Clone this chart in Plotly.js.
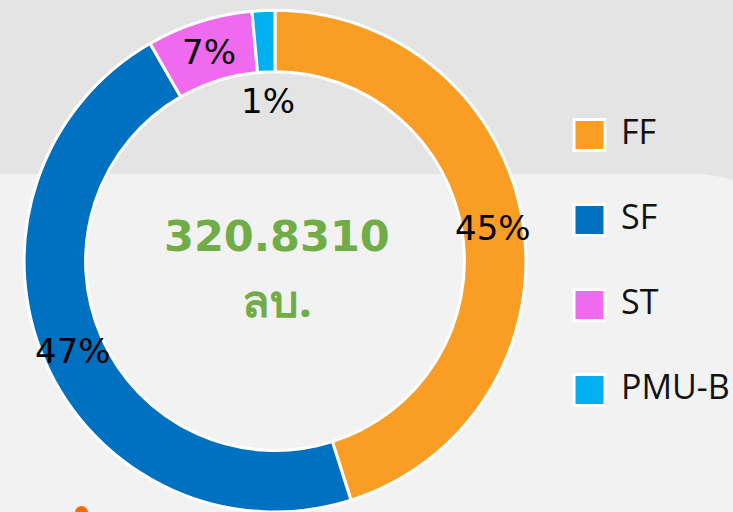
<!DOCTYPE html>
<html><head><meta charset="utf-8">
<script src="https://cdn.plot.ly/plotly-3.0.1.min.js"></script>
<style>html,body{margin:0;padding:0;background:#e4e4e4;}#chart{width:733px;height:512px;}</style>
</head><body><div id="chart"></div>
<script>
const categories = ["FF", "SF", "ST", "PMU-B"];
const values = [144.70, 149.52, 21.91, 4.701];
const colors = ["#F99D25", "#0070C0", "#F06AF0", "#00B0F0"];
const unit = "ลบ.";

const W = 733, H = 512;
const px = x => x / W;
const py = y => 1 - y / H;

const domX = [px(23), px(527)];
const domY = [0, 0.98];
const holeFrac = 0.755;

// pie geometry in pixels (derived from domain)
const dw = (domX[1] - domX[0]) * W, dh = (domY[1] - domY[0]) * H;
const R = Math.min(dw, dh) / 2;
const cx = (domX[0] + domX[1]) / 2 * W;
const cy = H - (domY[0] + domY[1]) / 2 * H;
const rIn = R * holeFrac;

const total = values.reduce((a, b) => a + b, 0);
const annotations = [];
let cum = 0;
values.forEach((v, i) => {
  const f = v / total;
  const mid = (cum + f / 2) * 2 * Math.PI;
  cum += f;
  const r = f < 0.03 ? rIn - 28 : (R + rIn) / 2;
  const x = cx + r * Math.sin(mid), y = cy - r * Math.cos(mid);
  annotations.push({
    x: px(x), y: py(y + 1), xref: "paper", yref: "paper", showarrow: false,
    text: Math.round(f * 100) + "%",
    font: {family: "DejaVu Sans, sans-serif", size: 34, color: "#000"},
    xanchor: "center", yanchor: "middle"
  });
});

// center total
annotations.push({
  x: px(cx + 2), y: py(236), xref: "paper", yref: "paper", showarrow: false,
  text: "<b>" + total.toFixed(4) + "</b>",
  font: {family: "DejaVu Sans, sans-serif", size: 43, color: "#70AD47"},
  xanchor: "center", yanchor: "middle"
});
annotations.push({
  x: px(cx + 2), y: py(299), xref: "paper", yref: "paper", showarrow: false,
  text: "<b>" + unit + "</b>",
  font: {family: "Noto Sans, DejaVu Sans, sans-serif", size: 45, color: "#70AD47"},
  xanchor: "center", yanchor: "middle"
});

const shapes = [];
// lighter card with rounded top-right corner
const pth = "M " + px(-10) + "," + py(174) + " L " + px(695) + "," + py(174) +
  " Q " + px(733) + "," + py(174) + " " + px(765) + "," + py(198) +
  " L " + px(765) + "," + py(520) + " L " + px(-10) + "," + py(520) + " Z";
shapes.push({type: "path", xref: "paper", yref: "paper", path: pth,
  fillcolor: "#F2F2F2", line: {width: 0}, layer: "below"});
// small orange mark at bottom
shapes.push({type: "circle", xref: "paper", yref: "paper",
  x0: px(75), x1: px(88), y0: py(520), y1: py(506),
  fillcolor: "#FF6A00", line: {width: 0}, layer: "below"});

// legend built from categories/colors
categories.forEach((c, i) => {
  const yc = 135 + i * 85;
  shapes.push({type: "rect", xref: "paper", yref: "paper",
    x0: px(574), x1: px(605), y0: py(yc + 15.5), y1: py(yc - 15.5),
    fillcolor: colors[i], line: {color: "#FFFFFF", width: 3}, layer: "above"});
  annotations.push({x: px(619), y: py(yc - 4), xref: "paper", yref: "paper",
    showarrow: false, text: c, xanchor: "left", yanchor: "middle",
    font: {family: "Open Sans, Noto Sans, sans-serif", size: 34, color: "#111"}});
});

const data = [{
  type: "pie", labels: categories, values: values,
  marker: {colors: colors, line: {color: "#FFFFFF", width: 3}},
  hole: holeFrac, sort: false, direction: "clockwise", rotation: 0,
  textinfo: "none", hoverinfo: "label+percent",
  domain: {x: domX, y: domY}, showlegend: false
}];

const layout = {
  width: W, height: H, margin: {l: 0, r: 0, t: 0, b: 0, pad: 0},
  paper_bgcolor: "#E4E4E4", plot_bgcolor: "rgba(0,0,0,0)",
  showlegend: false, shapes: shapes, annotations: annotations
};
Plotly.newPlot("chart", data, layout, {displayModeBar: false, staticPlot: true});
</script></body></html>
